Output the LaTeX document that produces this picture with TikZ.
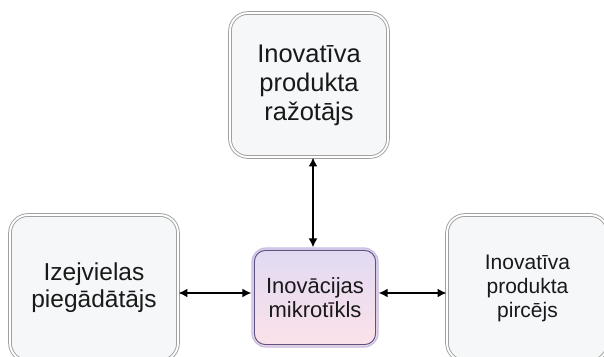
\documentclass[tikz,border=0pt]{standalone}
\usepackage{fontspec}
\setmainfont{Liberation Sans}
\usetikzlibrary{arrows.meta}
\definecolor{boxfill}{HTML}{F5F7F8}
\definecolor{boxline}{HTML}{A0A0A0}
\definecolor{hubtop}{HTML}{E1DAF3}
\definecolor{hubbot}{HTML}{FCE2E9}
\definecolor{hubouter}{HTML}{C4BCE0}
\definecolor{hubinner}{HTML}{5E5282}
\tikzset{
  partybox/.style={draw=boxline, double=white, double distance=1.8pt, line width=0.9pt,
    fill=boxfill, rounded corners=18pt, align=center, inner sep=0pt, text=black!90},
  hubbox/.style={draw=hubouter, line width=1.2pt, top color=hubtop, bottom color=hubbot,
    rounded corners=14pt, align=center, inner sep=0pt, text=black!90,
    minimum width=126pt, minimum height=99pt},
  link/.style={line width=2.5pt, {Latex[length=9pt,width=9pt]}-{Latex[length=9pt,width=9pt]}}
}
\begin{document}
\begin{tikzpicture}[x=1pt,y=-1pt]
  \useasboundingbox (0,0) rectangle (604,356);
  \fill[white] (0,0) rectangle (604,356);
  \begin{scope}
    \clip (0,0) rectangle (604,356);
    % outer parties
    \node[partybox, minimum width=158pt, minimum height=144pt,
      font=\fontsize{25.5}{29}\selectfont] (maker) at (309,85)
      {Inovatīva\\produkta\\ražotājs};
    \node[partybox, minimum width=168pt, minimum height=146pt,
      font=\fontsize{24.5}{27}\selectfont] (supplier) at (94,288)
      {Izejvielas\\piegādātājs};
    \node[partybox, minimum width=161pt, minimum height=146pt,
      font=\fontsize{21}{24}\selectfont] (buyer) at (527.5,288)
      {Inovatīva\\produkta\\pircējs};
    % central micro-network
    \node[hubbox, font=\fontsize{22}{24}\selectfont] (hub) at (315,297.5)
      {Inovācijas\\mikrotīkls};
    \draw[hubinner, line width=1pt, rounded corners=11pt]
      ([xshift=3pt,yshift=-3pt]hub.north west) rectangle ([xshift=-3pt,yshift=3pt]hub.south east);
    % links
    \draw[link] ([xshift=-2pt]hub.north |- maker.south) -- ([xshift=-2pt]hub.north);
    \draw[link] ([yshift=4.5pt]supplier.east |- hub.west) -- ([yshift=4.5pt]hub.west);
    \draw[link] ([yshift=4.5pt]hub.east) -- ([yshift=4.5pt]buyer.west |- hub.east);
  \end{scope}
\end{tikzpicture}
\end{document}
